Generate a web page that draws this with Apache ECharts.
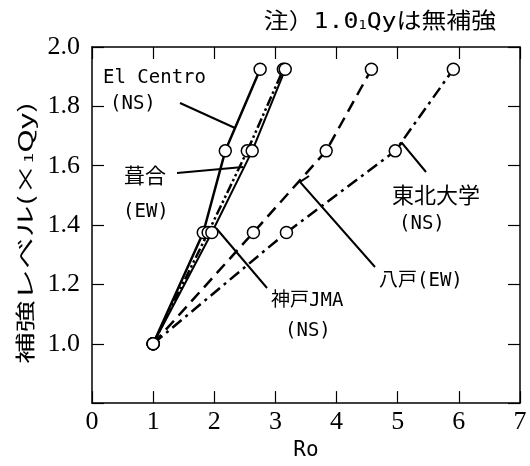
<!DOCTYPE html>
<html><head><meta charset="utf-8">
<script src="https://cdn.jsdelivr.net/npm/echarts@6/dist/echarts.min.js"></script>
<style>html,body{margin:0;padding:0;background:#fff}#c{width:530px;height:466px}</style>
</head><body><div id="c"></div>
<script>
// reinforcement levels (×1Qy)
const levels = [1.0, 1.375, 1.65, 1.925];
// Ro values for each record
const roElCentro = [1.0, 1.82, 2.18, 2.75];
const roFukiai = [1.0, 1.90, 2.54, 3.13];
const roKobe = [1.0, 1.96, 2.62, 3.16];
const roHachinohe = [1.0, 2.64, 3.83, 4.57];
const roTohoku = [1.0, 3.18, 4.96, 5.91];
const xTickLabels = ['0','1','2','3','4','5','6','7'];
const yTickLabels = ['1.0','1.2','1.4','1.6','1.8','2.0'];

const chart = echarts.init(document.getElementById('c'));
const CJK = '"Noto Sans CJK JP"';
const MONO = '"DejaVu Sans Mono", "Noto Sans CJK JP"';

function pairs(xs){ return xs.map((x,i)=>[x, levels[i]]); }
const allSeries = [
  {name:'El Centro(NS)', ro: roElCentro, type:'solid', w:2.5},
  {name:'葺合(EW)', ro: roFukiai, type:[10,3,2.5,3,2.5,3], w:2.5},
  {name:'神戸JMA(NS)', ro: roKobe, type:'solid', w:2},
  {name:'八戸(EW)', ro: roHachinohe, type:[12,7], w:2.5},
  {name:'東北大学(NS)', ro: roTohoku, type:[12,5,3,5], w:2.5}
];
const series = allSeries.map(s=>({
  type:'line', name:s.name, data:pairs(s.ro), showSymbol:false, z:2,
  lineStyle:{color:'#000', width:s.w, type:s.type}, animation:false
}));
let pts = [];
allSeries.forEach(s=>{ pts = pts.concat(pairs(s.ro)); });
series.push({type:'scatter', data:pts, symbol:'circle', symbolSize:12, z:5,
  itemStyle:{color:'#fff', borderColor:'#000', borderWidth:1.5, opacity:1}, animation:false});

function measure(text, font){
  const c = document.createElement('canvas').getContext('2d'); c.font = font; return c.measureText(text).width;
}
// y-axis title stretched along its baseline
const yTitleW = measure('補強レベル(×', '20px '+CJK) + measure('1','12px '+CJK) + measure('Qy)', '20px '+CJK);
const yScale = 262 / yTitleW;

function txt(x, y, text, size, font, align){
  return {type:'text', x:x, y:y, style:{text:text, fill:'#000', font: size+'px '+font, align: align||'left', verticalAlign:'middle'}};
}
function line(points){
  return {type:'polyline', shape:{points:points}, style:{stroke:'#000', lineWidth:2, fill:null}};
}

const axisCommon = {
  axisLine:{show:true, onZero:false, lineStyle:{color:'#000', width:1.5}},
  axisTick:{show:true, inside:true, length:12, lineStyle:{color:'#000', width:1.2}},
  splitLine:{show:false}
};

chart.setOption({
  backgroundColor:'#fff',
  animation:false,
  grid:{left:92, right:10, top:47, bottom:57},
  xAxis:[
    Object.assign({type:'value', min:0, max:7, interval:1, position:'bottom',
      axisLabel:{color:'#000', fontFamily:'Liberation Serif', fontSize:26, margin:6,
        formatter:(v)=>xTickLabels[Math.round(v)]},
      name:'Ro', nameLocation:'middle', nameGap:36,
      nameTextStyle:{color:'#000', fontFamily:'DejaVu Sans Mono', fontSize:21}}, axisCommon),
    Object.assign({type:'value', min:0, max:7, interval:1, position:'top', axisLabel:{show:false}}, axisCommon)
  ],
  yAxis:[
    Object.assign({type:'value', min:0.8, max:2.0, interval:0.2, position:'left',
      axisLabel:{color:'#000', fontFamily:'Liberation Serif', fontSize:26, margin:12,
        formatter:(v)=>{ const i = Math.round((v-1.0)/0.2); return i>=0 ? yTickLabels[i] : ''; }}}, axisCommon),
    Object.assign({type:'value', min:0.8, max:2.0, interval:0.2, position:'right', axisLabel:{show:false}}, axisCommon)
  ],
  series: series,
  graphic:[
    {type:'text', x:25, y:233, rotation:Math.PI/2, scaleX:yScale,
      style:{text:'補強レベル(×{s|1}Qy)', fill:'#000', font:'20px '+CJK, align:'center', verticalAlign:'middle',
        rich:{s:{fontSize:12, fontFamily:'Noto Sans CJK JP', padding:[6,0,0,0]}}}},
    {type:'text', x:496, y:22, scaleX:1.13,
      style:{text:'注）1.0{s|1}Qyは無補強', fill:'#000', font:'22px '+MONO, align:'right', verticalAlign:'middle',
        rich:{s:{fontSize:12, fontFamily:'DejaVu Sans Mono', padding:[7,0,0,0]}}}},
    txt(103, 78, 'El Centro', 19, MONO),
    txt(110, 104, '(NS)', 19, MONO),
    line([[180,103],[235,128]]),
    txt(124, 175, '葺合', 21, CJK),
    txt(123, 212, '(EW)', 19, MONO),
    line([[177,173],[243,167]]),
    txt(271, 301, '神戸JMA', 19, MONO),
    txt(285, 331, '(NS)', 19, MONO),
    line([[216,228],[267,288]]),
    txt(379, 281, '八戸(EW)', 19, MONO),
    line([[309,176],[300,182],[375,267]]),
    txt(392, 195, '東北大学', 22, CJK),
    txt(399, 224, '(NS)', 19, MONO),
    line([[397,148],[402,143],[426,172]])
  ]
});
</script></body></html>
